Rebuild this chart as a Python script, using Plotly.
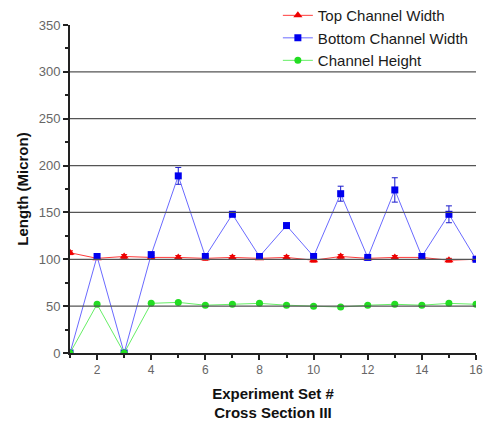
import plotly.graph_objects as go

experiment = list(range(1, 17))
top_width = [107, 101, 103, 102, 102, 101, 102, 101, 102, 99, 103, 101, 102, 102, 99, 100]
top_err = [2, 1, 2, 2, 2, 2, 2, 1, 2, 2, 2, 1, 2, 2, 2, 1]
bottom_width = [0, 103, 0, 105, 189, 103, 148, 103, 136, 103, 170, 102, 174, 103, 148, 100]
bottom_err = [0, 1, 0, 1, 9, 1, 2, 1, 1, 1, 8, 1, 13, 1, 9, 1]
height = [0, 52, 0, 53, 54, 51, 52, 53, 51, 50, 49, 51, 52, 51, 53, 52]
height_err = [0, 1, 0, 1, 1, 1, 1, 1, 1, 1, 1, 1, 1, 1, 1, 1]

fig = go.Figure()
fig.add_trace(go.Scatter(
    x=experiment, y=top_width, name="Top Channel Width", mode="lines+markers",
    line=dict(color="#ff3b3b", width=1),
    marker=dict(symbol="triangle-up", size=8, color="#ee0000"),
    error_y=dict(type="data", array=top_err, color="#ee0000", thickness=1, width=3),
))
fig.add_trace(go.Scatter(
    x=experiment, y=bottom_width, name="Bottom Channel Width", mode="lines+markers",
    line=dict(color="#6a6aff", width=1),
    marker=dict(symbol="square", size=7, color="#0000ee"),
    error_y=dict(type="data", array=bottom_err, color="#1a1acc", thickness=1, width=3),
))
fig.add_trace(go.Scatter(
    x=experiment, y=height, name="Channel Height", mode="lines+markers",
    line=dict(color="#66ee66", width=1),
    marker=dict(symbol="circle", size=7, color="#22dd22"),
    error_y=dict(type="data", array=height_err, color="#22dd22", thickness=1, width=3),
))

fig.update_layout(
    width=485, height=423,
    margin=dict(l=70, r=9, t=25, b=70, autoexpand=False),
    paper_bgcolor="white", plot_bgcolor="white",
    font=dict(family="Liberation Sans, Arial, sans-serif", color="#222"),
    showlegend=True,
    legend=dict(x=0.512, y=1.079, xanchor="left", yanchor="top",
                bgcolor="rgba(0,0,0,0)", font=dict(size=15, color="#1a1a1a"),
                tracegroupgap=0, itemwidth=30),
    xaxis=dict(
        range=[1, 16], tickvals=[2, 4, 6, 8, 10, 12, 14, 16],
        showgrid=False, zeroline=False,
        showline=True, linecolor="#222", linewidth=2,
        ticks="outside", ticklen=5, tickwidth=1.5, tickcolor="#222",
        minor=dict(tickvals=[1, 3, 5, 7, 9, 11, 13, 15], ticks="outside", ticklen=3, tickcolor="#222"),
        tickfont=dict(size=12, color="#666"),
        title=dict(text="<b>Experiment Set #<br>Cross Section III</b>", font=dict(size=15, color="#111"), standoff=12),
    ),
    yaxis=dict(
        range=[0, 350], tickvals=[0, 50, 100, 150, 200, 250, 300, 350],
        showgrid=False, zeroline=False,
        showline=True, linecolor="#222", linewidth=2,
        ticks="outside", ticklen=5, tickwidth=1.5, tickcolor="#222",
        minor=dict(tickvals=[25, 75, 125, 175, 225, 275, 325], ticks="outside", ticklen=3, tickcolor="#222"),
        tickfont=dict(size=13, color="#666"),
        title=dict(text="<b>Length (Micron)</b>", font=dict(size=15, color="#111"), standoff=6),
    ),
)

for gy in [50, 100, 150, 200, 250, 300]:
    fig.add_hline(y=gy, line=dict(color="#555", width=1.3), layer="above")

fig.write_html("out.html")
